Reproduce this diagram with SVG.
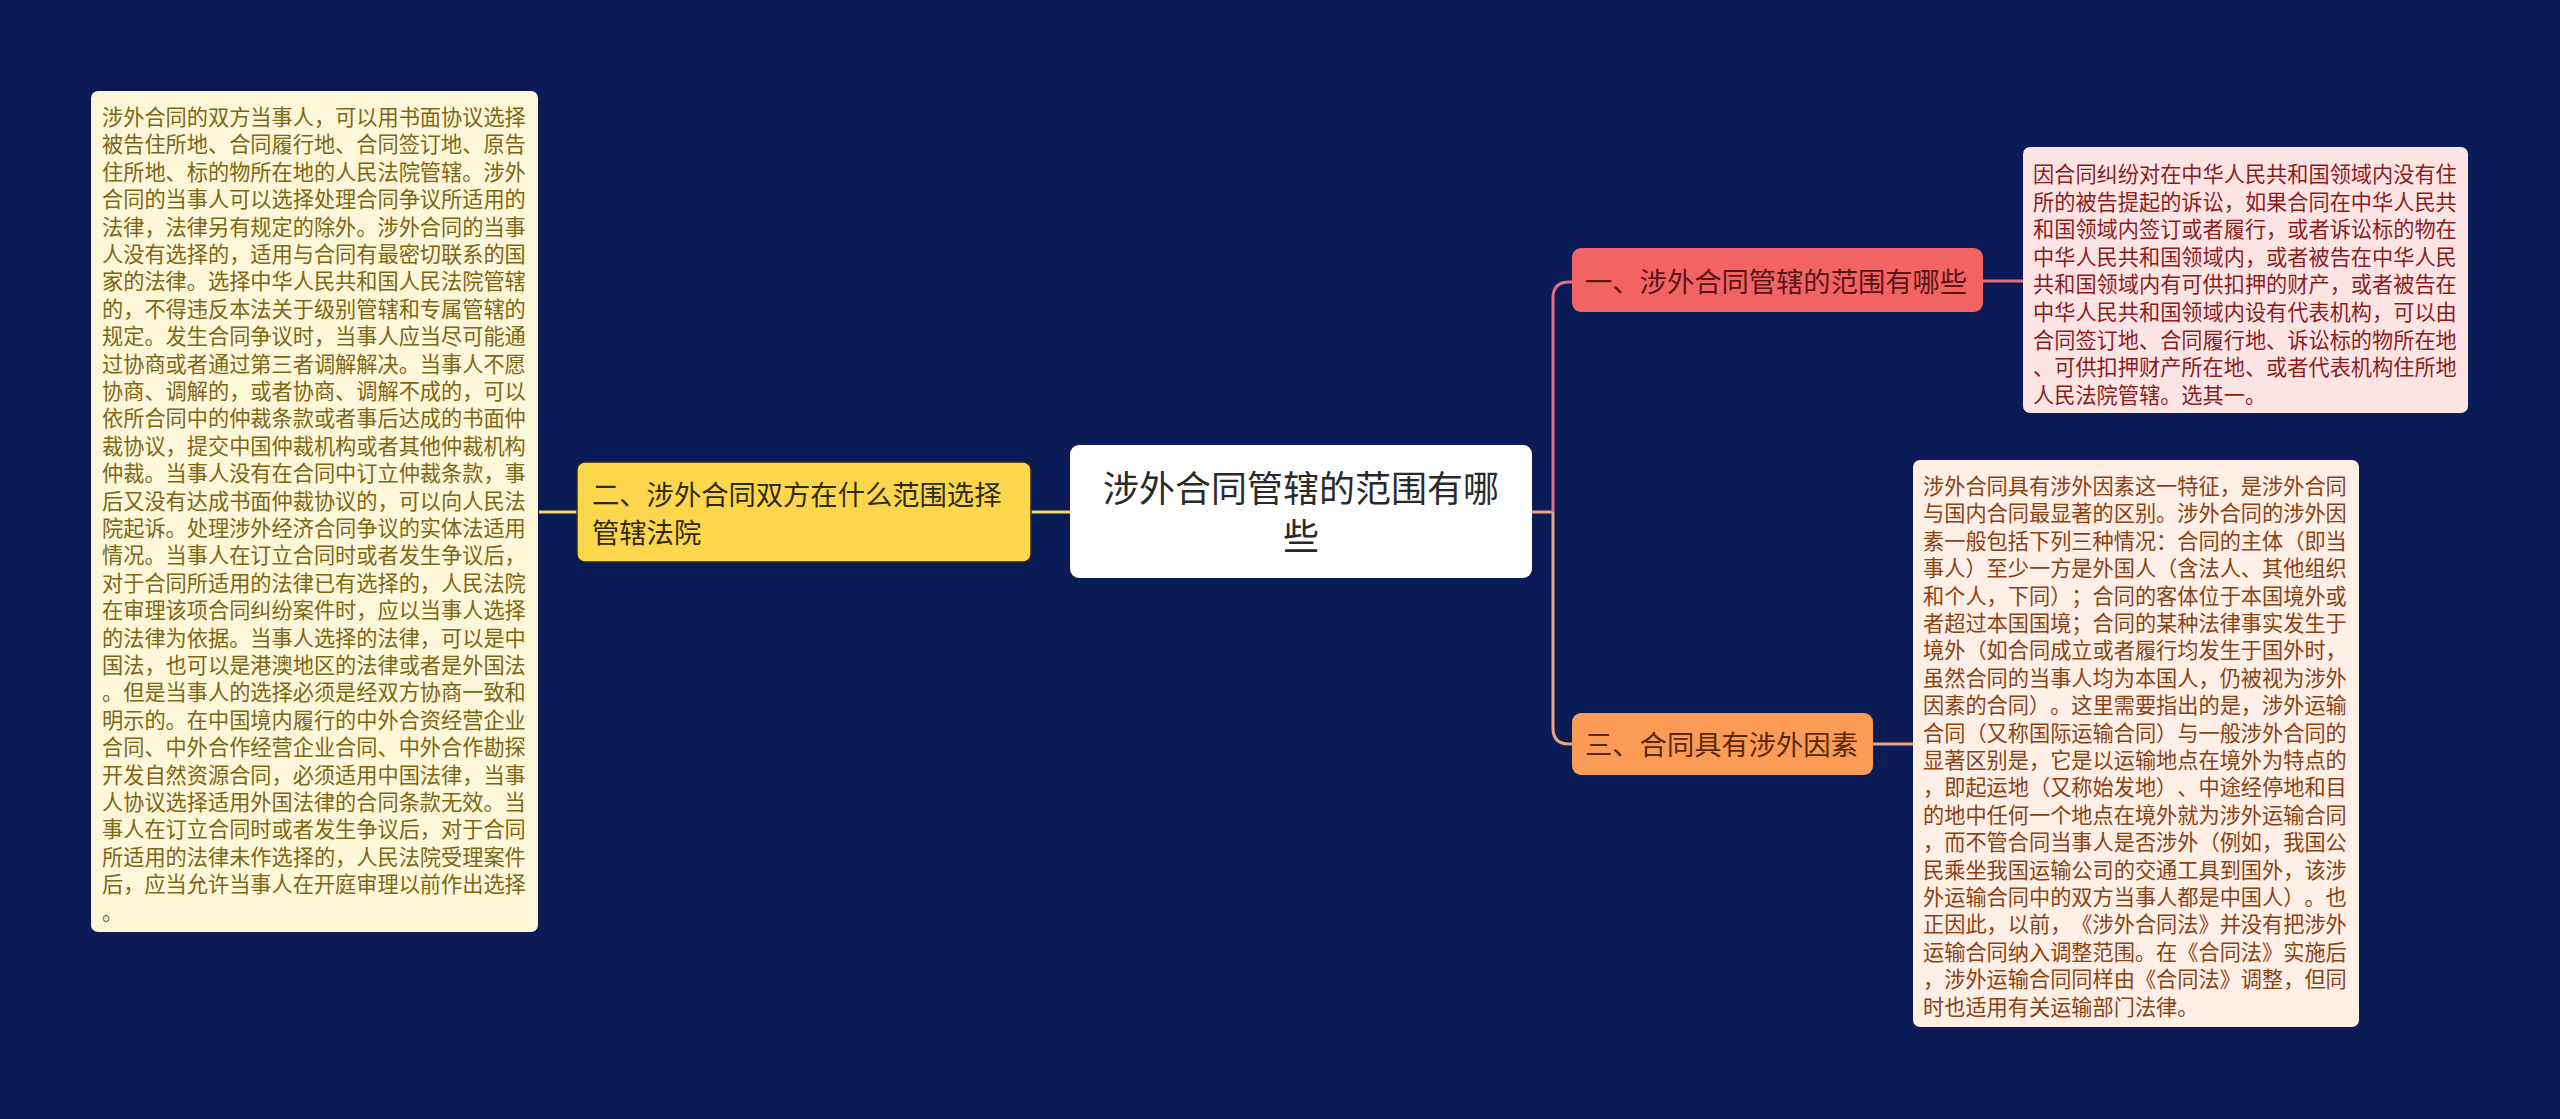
<svg xmlns="http://www.w3.org/2000/svg" width="2560" height="1119" viewBox="0 0 2560 1119">
<style>
text{font-family:"Noto Sans CJK SC","Noto Sans",sans-serif;text-spacing-trim:space-all;font-feature-settings:"chws" 0,"halt" 0}
.body{font-size:21.2px}
.lt{fill:#7d6614}
.rt{fill:#8c1c1c}
.rb{fill:#8a4212}
.conn{fill:none;stroke-width:3}
</style>
<rect width="2560" height="1119" fill="#0b1b56"/>
<g id="connectors">
<path class="conn" d="M539 512 H577" stroke="#f4d768"/>
<path class="conn" d="M1031 512 H1070" stroke="#f4d768"/>
<path class="conn" d="M1532 512 H1553" stroke="#eea184"/>
<path class="conn" d="M1553 512 V298 Q1553 282 1569 282 H1572" stroke="#e4707c"/>
<path class="conn" d="M1553 512 V728 Q1553 744 1569 744 H1572" stroke="#eea184"/>
<path class="conn" d="M1983 281 H2023" stroke="#e4707c"/>
<path class="conn" d="M1873 744 H1913" stroke="#eea184"/>
</g>
<g id="center">
<rect x="1070" y="445" width="462" height="133" rx="9" fill="#ffffff"/>
<text x="1301" y="502" font-size="36" fill="#2a2a2a" text-anchor="middle">涉外合同管辖的范围有哪</text>
<text x="1301" y="550" font-size="36" fill="#2a2a2a" text-anchor="middle">些</text>
</g>
<g id="node-left">
<rect x="577" y="462" width="454" height="100" rx="8" fill="#fcd64c" stroke="#2b2a20" stroke-width="1.5"/>
<text x="592" y="505" font-size="27.3" fill="#2e2a14">二、涉外合同双方在什么范围选择</text>
<text x="592" y="543" font-size="27.3" fill="#2e2a14">管辖法院</text>
</g>
<g id="node-1">
<rect x="1572" y="248" width="411" height="64" rx="9" fill="#f26464"/>
<text x="1585" y="292" font-size="27.3" fill="#5c1414">一、涉外合同管辖的范围有哪些</text>
</g>
<g id="node-3">
<rect x="1572" y="713" width="301" height="62" rx="9" fill="#fa9b58"/>
<text x="1585" y="755" font-size="27.3" fill="#5a2808">三、合同具有涉外因素</text>
</g>
<g id="box-left">
<rect x="91" y="91" width="447" height="841" rx="7" fill="#fdf6d8"/>
<text class="body lt">
<tspan x="102" y="125">涉外合同的双方当事人，可以用书面协议选择</tspan>
<tspan x="102" dy="27.4">被告住所地、合同履行地、合同签订地、原告</tspan>
<tspan x="102" dy="27.4">住所地、标的物所在地的人民法院管辖。涉外</tspan>
<tspan x="102" dy="27.4">合同的当事人可以选择处理合同争议所适用的</tspan>
<tspan x="102" dy="27.4">法律，法律另有规定的除外。涉外合同的当事</tspan>
<tspan x="102" dy="27.4">人没有选择的，适用与合同有最密切联系的国</tspan>
<tspan x="102" dy="27.4">家的法律。选择中华人民共和国人民法院管辖</tspan>
<tspan x="102" dy="27.4">的，不得违反本法关于级别管辖和专属管辖的</tspan>
<tspan x="102" dy="27.4">规定。发生合同争议时，当事人应当尽可能通</tspan>
<tspan x="102" dy="27.4">过协商或者通过第三者调解解决。当事人不愿</tspan>
<tspan x="102" dy="27.4">协商、调解的，或者协商、调解不成的，可以</tspan>
<tspan x="102" dy="27.4">依所合同中的仲裁条款或者事后达成的书面仲</tspan>
<tspan x="102" dy="27.4">裁协议，提交中国仲裁机构或者其他仲裁机构</tspan>
<tspan x="102" dy="27.4">仲裁。当事人没有在合同中订立仲裁条款，事</tspan>
<tspan x="102" dy="27.4">后又没有达成书面仲裁协议的，可以向人民法</tspan>
<tspan x="102" dy="27.4">院起诉。处理涉外经济合同争议的实体法适用</tspan>
<tspan x="102" dy="27.4">情况。当事人在订立合同时或者发生争议后，</tspan>
<tspan x="102" dy="27.4">对于合同所适用的法律已有选择的，人民法院</tspan>
<tspan x="102" dy="27.4">在审理该项合同纠纷案件时，应以当事人选择</tspan>
<tspan x="102" dy="27.4">的法律为依据。当事人选择的法律，可以是中</tspan>
<tspan x="102" dy="27.4">国法，也可以是港澳地区的法律或者是外国法</tspan>
<tspan x="102" dy="27.4">。但是当事人的选择必须是经双方协商一致和</tspan>
<tspan x="102" dy="27.4">明示的。在中国境内履行的中外合资经营企业</tspan>
<tspan x="102" dy="27.4">合同、中外合作经营企业合同、中外合作勘探</tspan>
<tspan x="102" dy="27.4">开发自然资源合同，必须适用中国法律，当事</tspan>
<tspan x="102" dy="27.4">人协议选择适用外国法律的合同条款无效。当</tspan>
<tspan x="102" dy="27.4">事人在订立合同时或者发生争议后，对于合同</tspan>
<tspan x="102" dy="27.4">所适用的法律未作选择的，人民法院受理案件</tspan>
<tspan x="102" dy="27.4">后，应当允许当事人在开庭审理以前作出选择</tspan>
<tspan x="102" dy="27.4">。</tspan>
</text>
</g>
<g id="box-right-top">
<rect x="2023" y="147" width="445" height="266" rx="7" fill="#fde4e4"/>
<text class="body rt">
<tspan x="2033" y="182">因合同纠纷对在中华人民共和国领域内没有住</tspan>
<tspan x="2033" dy="27.6">所的被告提起的诉讼，如果合同在中华人民共</tspan>
<tspan x="2033" dy="27.6">和国领域内签订或者履行，或者诉讼标的物在</tspan>
<tspan x="2033" dy="27.6">中华人民共和国领域内，或者被告在中华人民</tspan>
<tspan x="2033" dy="27.6">共和国领域内有可供扣押的财产，或者被告在</tspan>
<tspan x="2033" dy="27.6">中华人民共和国领域内设有代表机构，可以由</tspan>
<tspan x="2033" dy="27.6">合同签订地、合同履行地、诉讼标的物所在地</tspan>
<tspan x="2033" dy="27.6">、可供扣押财产所在地、或者代表机构住所地</tspan>
<tspan x="2033" dy="27.6">人民法院管辖。选其一。</tspan>
</text>
</g>
<g id="box-right-bottom">
<rect x="1913" y="460" width="446" height="567" rx="7" fill="#fdeee6"/>
<text class="body rb">
<tspan x="1923" y="494">涉外合同具有涉外因素这一特征，是涉外合同</tspan>
<tspan x="1923" dy="27.4">与国内合同最显著的区别。涉外合同的涉外因</tspan>
<tspan x="1923" dy="27.4">素一般包括下列三种情况：合同的主体（即当</tspan>
<tspan x="1923" dy="27.4">事人）至少一方是外国人（含法人、其他组织</tspan>
<tspan x="1923" dy="27.4">和个人，下同）；合同的客体位于本国境外或</tspan>
<tspan x="1923" dy="27.4">者超过本国国境；合同的某种法律事实发生于</tspan>
<tspan x="1923" dy="27.4">境外（如合同成立或者履行均发生于国外时，</tspan>
<tspan x="1923" dy="27.4">虽然合同的当事人均为本国人，仍被视为涉外</tspan>
<tspan x="1923" dy="27.4">因素的合同）。这里需要指出的是，涉外运输</tspan>
<tspan x="1923" dy="27.4">合同（又称国际运输合同）与一般涉外合同的</tspan>
<tspan x="1923" dy="27.4">显著区别是，它是以运输地点在境外为特点的</tspan>
<tspan x="1923" dy="27.4">，即起运地（又称始发地）、中途经停地和目</tspan>
<tspan x="1923" dy="27.4">的地中任何一个地点在境外就为涉外运输合同</tspan>
<tspan x="1923" dy="27.4">，而不管合同当事人是否涉外（例如，我国公</tspan>
<tspan x="1923" dy="27.4">民乘坐我国运输公司的交通工具到国外，该涉</tspan>
<tspan x="1923" dy="27.4">外运输合同中的双方当事人都是中国人）。也</tspan>
<tspan x="1923" dy="27.4">正因此，以前，《涉外合同法》并没有把涉外</tspan>
<tspan x="1923" dy="27.4">运输合同纳入调整范围。在《合同法》实施后</tspan>
<tspan x="1923" dy="27.4">，涉外运输合同同样由《合同法》调整，但同</tspan>
<tspan x="1923" dy="27.4">时也适用有关运输部门法律。</tspan>
</text>
</g>
</svg>
